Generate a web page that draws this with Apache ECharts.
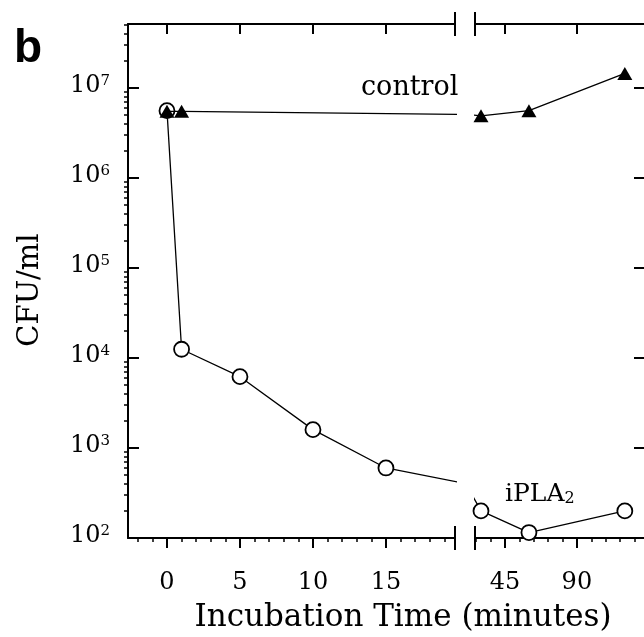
<!DOCTYPE html>
<html><head><meta charset="utf-8">
<script src="https://cdn.jsdelivr.net/npm/echarts@6/dist/echarts.min.js"></script>
<style>html,body{margin:0;padding:0;background:#fff}#c{width:644px;height:637px}</style>
</head><body><div id="c"></div>
<script>
// ---- data (minutes, CFU/ml) ----
const controlTimes = [0, 1, 30, 60, 120];
const controlCFU   = [5.5e6, 5.5e6, 4.9e6, 5.6e6, 1.45e7];
const iplaTimes    = [0, 1, 5, 10, 15, 30, 60, 120];
const iplaCFU      = [5.6e6, 1.25e4, 6.2e3, 1.6e3, 6.0e2, 2.0e2, 1.15e2, 2.0e2];
// ---- axis ticks ----
const xTicksLeft  = [0, 5, 10, 15];
const xTicksRight = [45, 90];
const xMinorLeft  = [-2, -1, 1, 2, 3, 4, 6, 7, 8, 9, 11, 12, 13, 14, 16, 17, 18, 19];
const xMinorRight = [27, 36, 54, 63, 72, 81, 99, 108, 117, 126];
const yDecades    = [1e2, 1e3, 1e4, 1e5, 1e6, 1e7];
const yMinorMult  = [2, 3, 4, 5, 6, 7, 8, 9];

const yMinor = [];
yDecades.forEach(d => yMinorMult.forEach(m => yMinor.push(m * d)));

const FONT = 'DejaVu Serif';
const Y_MIN = 100, Y_MAX = 5.14e7;
const LEFT_RANGE = [-2.67, 19.73];
const RIGHT_RANGE = [26.25, 132];

const pair = (xs, ys) => xs.map((x, i) => [x, ys[i]]);
const controlData = pair(controlTimes, controlCFU);
const iplaData = pair(iplaTimes, iplaCFU);

function xAxesFor(grid, range, majors, minors) {
  const base = {type: 'value', gridIndex: grid, min: range[0], max: range[1], splitLine: {show: false}};
  return [
    Object.assign({}, base, {
      position: 'bottom',
      axisLine: {show: true, onZero: false, lineStyle: {color: '#000', width: 2}},
      axisTick: {show: true, customValues: majors, length: 10, inside: false, lineStyle: {color: '#000', width: 2}},
      axisLabel: {show: true, customValues: majors, margin: 33, color: '#000', fontFamily: FONT, fontSize: 24}
    }),
    Object.assign({}, base, {
      position: 'bottom',
      axisLine: {show: false, onZero: false},
      axisTick: {show: true, customValues: minors, length: 4, inside: false, lineStyle: {color: '#000', width: 1.5}},
      axisLabel: {show: false}
    }),
    Object.assign({}, base, {
      position: 'top',
      axisLine: {show: true, onZero: false, lineStyle: {color: '#000', width: 2}},
      axisTick: {show: true, customValues: majors, length: 10, inside: true, lineStyle: {color: '#000', width: 2}},
      axisLabel: {show: false}
    })
  ];
}

const yBase = {type: 'log', logBase: 10, min: Y_MIN, max: Y_MAX, splitLine: {show: false}};
const yAxes = [
  Object.assign({}, yBase, {
    gridIndex: 0, position: 'left',
    axisLine: {show: true, onZero: false, lineStyle: {color: '#000', width: 2}},
    axisTick: {show: true, customValues: yDecades, length: 11, inside: true, lineStyle: {color: '#000', width: 2}},
    axisLabel: {
      show: true, customValues: yDecades, margin: 18, padding: [0, 0, 4, 0],
      formatter: v => '{b|10}{s|' + Math.round(Math.log10(v)) + '}',
      rich: {
        b: {fontFamily: FONT, fontSize: 24, lineHeight: 24, color: '#000', padding: [10, 0, 0, 0], verticalAlign: 'bottom'},
        s: {fontFamily: FONT, fontSize: 15, lineHeight: 15, color: '#000', verticalAlign: 'top'}
      }
    }
  }),
  Object.assign({}, yBase, {
    gridIndex: 0, position: 'left',
    axisLine: {show: false, onZero: false},
    axisTick: {show: true, customValues: yMinor, length: 4, inside: false, lineStyle: {color: '#000', width: 1.5}},
    axisLabel: {show: false}
  }),
  Object.assign({}, yBase, {
    gridIndex: 1, position: 'right',
    axisLine: {show: false, onZero: false},
    axisTick: {show: true, customValues: yDecades, length: 10, inside: true, lineStyle: {color: '#000', width: 2}},
    axisLabel: {show: false}
  })
];

function seriesFor(grid, xIdx, yIdx) {
  return [
    {
      type: 'line', name: 'iPLA2', xAxisIndex: xIdx, yAxisIndex: yIdx, data: iplaData,
      symbol: 'circle', symbolSize: 15, clip: true, z: 3,
      lineStyle: {color: '#000', width: 1.3},
      itemStyle: {color: '#fff', borderColor: '#000', borderWidth: 1.8}
    },
    {
      type: 'line', name: 'control', xAxisIndex: xIdx, yAxisIndex: yIdx, data: controlData,
      symbol: 'triangle', symbolSize: [15, 13], clip: true, z: 4,
      lineStyle: {color: '#000', width: 1.3},
      itemStyle: {color: '#000', borderWidth: 0}
    },
    {
      type: 'custom', xAxisIndex: xIdx, yAxisIndex: yIdx, data: [[grid === 0 ? 0 : 60, 1000]], silent: true,
      renderItem: (params, api) => {
        const cs = params.coordSys;
        const x = grid === 0 ? cs.x + cs.width : cs.x;
        const st = {stroke: '#000', lineWidth: 2};
        return {type: 'group', children: [
          {type: 'line', shape: {x1: x, y1: cs.y - 12, x2: x, y2: cs.y + 12}, style: st},
          {type: 'line', shape: {x1: x, y1: cs.y + cs.height - 12, x2: x, y2: cs.y + cs.height + 12}, style: st}
        ]};
      }
    }
  ];
}

const chart = echarts.init(document.getElementById('c'), null, {renderer: 'canvas'});
chart.setOption({
  backgroundColor: '#fff',
  animation: false,
  grid: [
    {left: 128, top: 24, width: 327, height: 514},
    {left: 475, top: 24, right: 0, height: 514}
  ],
  xAxis: [].concat(
    xAxesFor(0, LEFT_RANGE, xTicksLeft, xMinorLeft),
    xAxesFor(1, RIGHT_RANGE, xTicksRight, xMinorRight)
  ),
  yAxis: yAxes,
  series: [].concat(seriesFor(0, 0, 0), seriesFor(1, 3, 2)),
  graphic: [
    {type: 'text', left: 14, top: 26, style: {text: 'b', font: 'bold 46px "Liberation Sans"', fill: '#000'}},
    {type: 'text', x: 361, y: 88, style: {text: 'control', font: '27px "' + FONT + '"', fill: '#000', verticalAlign: 'middle'}},
    {type: 'text', x: 505, y: 494, style: {
      text: '{a|iPLA}{s|2}', verticalAlign: 'middle',
      rich: {a: {fontFamily: FONT, fontSize: 25, color: '#000', verticalAlign: 'top', lineHeight: 25},
             s: {fontFamily: FONT, fontSize: 16, color: '#000', verticalAlign: 'bottom', lineHeight: 16}}
    }},
    {type: 'text', x: 403, y: 618, style: {text: 'Incubation Time (minutes)', font: '31px "' + FONT + '"', fill: '#000', align: 'center', verticalAlign: 'middle'}},
    {type: 'text', x: 30, y: 290, rotation: Math.PI / 2, style: {text: 'CFU/ml', font: '29px "' + FONT + '"', fill: '#000', align: 'center', verticalAlign: 'middle'}}
  ]
});
</script>
</body></html>
